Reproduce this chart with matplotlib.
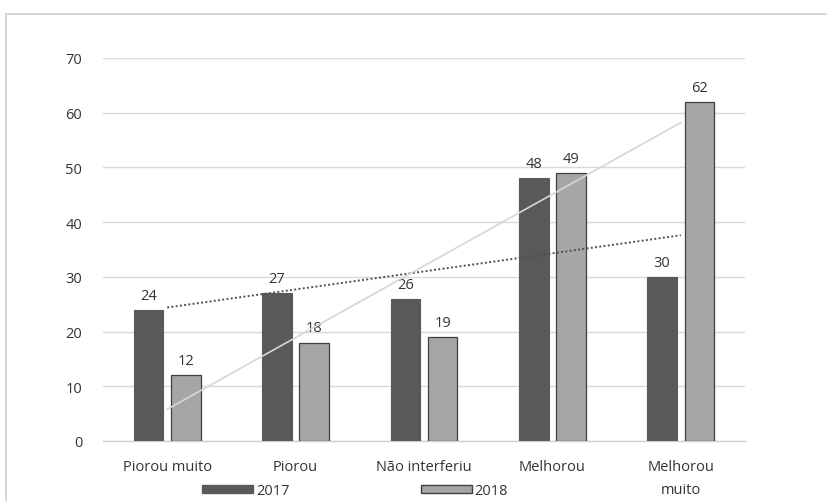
import matplotlib
matplotlib.use("Agg")
import matplotlib.pyplot as plt
import numpy as np
from matplotlib.patches import Rectangle, Patch

categories = ["Piorou muito", "Piorou", "Não interferiu", "Melhorou", "Melhorou\nmuito"]
v2017 = [24, 27, 26, 48, 30]
v2018 = [12, 18, 19, 49, 62]
series_names = ["2017", "2018"]
yticks = [0, 10, 20, 30, 40, 50, 60, 70]

W, H = 827, 502
fig = plt.figure(figsize=(W / 100, H / 100), dpi=100)
fig.patch.set_facecolor("white")
plt.rcParams['font.family'] = ['Open Sans', 'DejaVu Sans']

# outer frame
fig.add_artist(Rectangle((6 / W, -0.05), 1.0, 1 - 15 / H + 0.05, transform=fig.transFigure,
                         fill=False, edgecolor="#d0d0d0", linewidth=1.2))

ax = fig.add_axes([103 / W, 1 - 442 / H, (745 - 103) / W, (442 - 59) / H])
x = np.arange(len(categories))
bw = 0.23
off = 0.145
c17 = "#595959"
c18 = "#a6a6a6"
tc = "#333333"
fs = 10.5
ax.bar(x - off, v2017, bw, color=c17, edgecolor=c17, linewidth=0.8, zorder=3)
ax.bar(x + off, v2018, bw, color=c18, edgecolor="#404040", linewidth=0.9, zorder=3)

for xi, v in zip(x, v2017):
    ax.text(xi - off, v + 1.3, str(v), ha="center", va="bottom", fontsize=fs, color=tc)
for xi, v in zip(x, v2018):
    ax.text(xi + off, v + 1.3, str(v), ha="center", va="bottom", fontsize=fs, color=tc)

# linear trendlines
xs = np.arange(1, len(categories) + 1)
for vals, col, ls, lw in [(v2017, "#505050", (0, (1, 1.2)), 1.4), (v2018, "#d6d6d6", "-", 1.2)]:
    p = np.polyfit(xs, vals, 1)
    ax.plot([x[0], x[-1]], [np.polyval(p, xs[0]), np.polyval(p, xs[-1])], color=col,
            linestyle=ls, linewidth=lw, zorder=4)

ax.set_xlim(-0.5, len(categories) - 0.5)
ax.set_ylim(0, 70)
ax.set_yticks(yticks)
ax.set_yticklabels([str(t) for t in yticks], fontsize=fs, color=tc)
ax.yaxis.grid(True, color="#d9d9d9", linewidth=1.0, zorder=0)
ax.set_axisbelow(True)
ax.set_xticks(x)
ax.set_xticklabels(categories, fontsize=fs, color=tc, linespacing=1.75)
ax.tick_params(axis="x", length=0, pad=13)
ax.tick_params(axis="y", length=0, pad=15)
for s in ["top", "right", "left"]:
    ax.spines[s].set_visible(False)
ax.spines["bottom"].set_color("#d0d0d0")
ax.spines["bottom"].set_linewidth(1.0)

handles = [Patch(facecolor=c17, edgecolor=c17), Patch(facecolor=c18, edgecolor="#404040")]
fig.legend(handles, series_names, loc="center", bbox_to_anchor=(355 / W, 1 - 492 / H),
           ncol=2, frameon=False, fontsize=fs, handlelength=3.5, handleheight=0.45,
           columnspacing=9.0, handletextpad=0.2, labelcolor=tc, borderaxespad=0)

fig.savefig("out.png", dpi=100, facecolor="white")
